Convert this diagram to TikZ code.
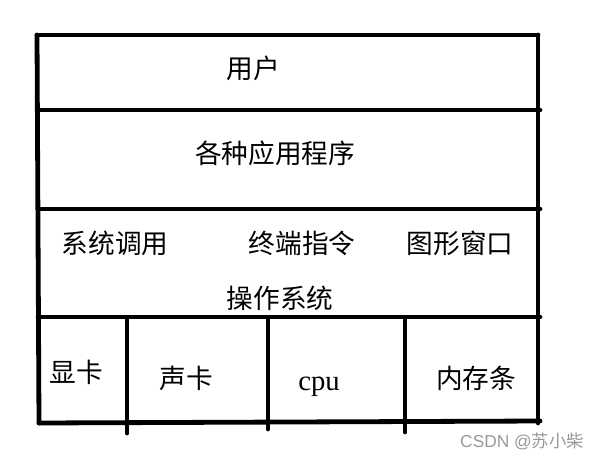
\documentclass[tikz,border=0pt]{standalone}
\usepackage{fontspec}
\setmainfont{Liberation Serif}
\newfontfamily\cjk{Noto Sans CJK SC}
\newfontfamily\wmfont{Liberation Sans}

\begin{document}
\begin{tikzpicture}[x={(0.75pt,0)},y={(0,-0.75pt)},
    edge/.style={line width=3.6pt,line cap=round},
    lbl/.style={font=\cjk\fontsize{20}{24}\selectfont,inner sep=0pt},
    latin/.style={font=\fontsize{21.5}{24}\selectfont,inner sep=0pt}]
    \useasboundingbox (0,0) rectangle (605,460);
    % outer frame
    \draw[edge] (37,35) -- (538,35);
    \draw[edge] (37,35) -- (39,423);
    \draw[edge] (538,35) -- (538,423);
    \draw[edge] (39,423) -- (540,421);
    % layers
    \foreach \y in {110,209,317} \draw[edge] (38,\y) -- (540,\y);
    \foreach \x/\yb in {127/433,268/429,405/432} \draw[edge] (\x,318) -- (\x,\yb);
    % labels
    \node[lbl] (user) at (253,68) {用户};
    \node[lbl] (apps) at (275,153) {各种应用程序};
    \node[lbl] (syscall) at (115,243) {系统调用};
    \node[lbl] (term) at (302,243) {终端指令};
    \node[lbl] (gui) at (460,243) {图形窗口};
    \node[lbl] (os) at (280,298) {操作系统};
    \node[lbl] (gpu) at (76,372) {显卡};
    \node[lbl] (sound) at (186,378) {声卡};
    \node[latin,anchor=base] (cpu) at (319,390) {cpu};
    \node[lbl] (ram) at (476,378) {内存条};
    \node[font=\wmfont\fontsize{13}{15}\selectfont,text=black!40,inner sep=0pt] (mark) at (522,441) {CSDN @{\cjk 苏小柴}};
\end{tikzpicture}
\end{document}
